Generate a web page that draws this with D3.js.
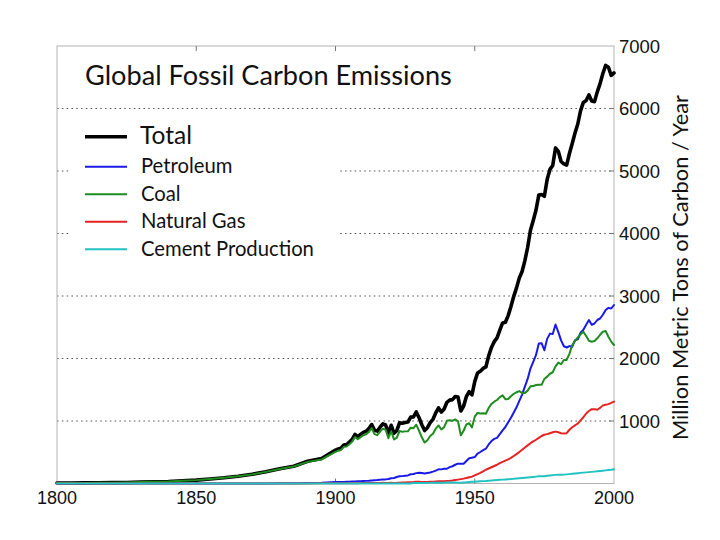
<!DOCTYPE html>
<html>
<head>
<meta charset="utf-8">
<script src="https://cdn.jsdelivr.net/npm/d3@7"></script>
<style>
  html, body { margin: 0; padding: 0; background: #fff; }
  svg { display: block; }
</style>
</head>
<body>
<svg id="chart" width="720" height="540"></svg>
<script>
// ---------------- DATA ----------------
// years: 1800-1895 every 5 years, then annual 1900-2000
const years = d3.range(1800, 1900, 5).concat(d3.range(1900, 2001));

const totalValues = [
  8,9,10,12,14,17,24,29,33,45,54,71,91,116,147,188,236,277,356,400,
  534,552,566,617,624,663,707,784,750,785,
  819,836,879,943,850,838,901,955,936,806,
  932,803,845,970,963,975,983,1062,1065,1145,
  1053,940,847,893,973,1027,1130,1209,1142,1192,
  1299,1334,1342,1391,1383,1160,1238,1392,1469,1419,
  1630,1767,1795,1841,1865,2042,2177,2270,2330,2454,
  2569,2580,2686,2833,2995,3130,3288,3393,3566,3780,
  4053,4208,4376,4614,4623,4596,4864,5026,5087,5369,
  5315,5152,5113,5094,5280,5439,5607,5752,5965,6097,
  6127,6217,6120,6110,6266,6398,6560,6690,6660,6530,
  6570
];

const petroleumValues = [
  0,0,0,0,0,0,0,0,0,0,0,0,0,0,1,2,3,5,8,12,
  23,23,24,26,28,30,32,34,36,37,
  40,42,45,49,52,55,60,66,66,71,
  85,88,104,116,118,124,129,148,153,166,
  171,168,159,167,176,190,207,227,226,237,
  236,262,276,300,317,317,317,360,403,413,
  423,479,504,533,557,625,679,714,731,789,
  849,904,980,1052,1137,1219,1323,1423,1551,1673,
  1839,1947,2057,2241,2245,2132,2314,2398,2392,2544,
  2422,2289,2196,2176,2199,2186,2293,2306,2412,2459,
  2540,2616,2540,2560,2616,2640,2700,2776,2810,2800,
  2856
];

const coalValues = [
  8,9,10,12,14,17,24,29,33,45,54,71,91,116,146,186,233,271,346,385,
  507,524,537,587,591,628,670,745,709,742,
  772,787,826,886,790,774,831,878,860,725,
  836,705,730,840,829,834,835,893,885,941,
  844,739,657,693,759,797,877,929,864,902,
  1003,1012,1004,1025,996,770,844,945,964,897,
  1070,1129,1119,1125,1116,1208,1273,1309,1336,1382,
  1410,1349,1351,1396,1435,1460,1478,1448,1448,1486,
  1556,1559,1576,1581,1579,1673,1710,1756,1780,1875,
  1935,1908,1976,1977,2074,2216,2277,2339,2387,2428,
  2359,2284,2269,2280,2323,2380,2429,2440,2349,2270,
  2216
];

const naturalGasValues = [
  0,0,0,0,0,0,0,0,0,0,0,0,0,0,0,0,0,1,2,3,
  3,4,4,4,5,5,5,5,5,6,
  7,7,8,8,8,9,10,11,10,10,
  11,10,11,14,16,17,19,21,23,28,
  28,25,24,25,28,30,34,38,37,38,
  42,44,48,55,62,70,78,88,100,110,
  130,150,170,195,220,240,260,280,300,325,
  345,365,385,410,440,470,505,540,575,610,
  645,675,700,730,760,780,790,805,820,830,
  820,805,800,805,860,900,930,960,1010,1060,
  1120,1160,1190,1190,1180,1210,1250,1260,1270,1290,
  1310
];

const cementValues = [
  0,0,0,0,0,0,0,0,0,0,0,0,0,0,0,0,0,0,0,0,
  0,0,0,0,0,0,0,0,0,0,
  0,0,0,0,0,0,0,0,0,0,
  0,0,0,0,0,0,0,0,10,10,
  10,9,8,9,10,11,12,13,14,14,
  15,16,16,15,14,14,17,20,24,27,
  29,32,35,38,41,45,48,51,55,59,
  62,65,68,71,75,80,84,88,92,96,
  100,105,110,116,117,116,124,129,134,138,
  140,140,142,146,150,155,160,165,170,174,
  178,182,186,190,195,200,205,210,215,220,
  227
];

const seriesNames = ["Total", "Petroleum", "Coal", "Natural Gas", "Cement Production"];
const xTicks = [1800, 1850, 1900, 1950, 2000];
const yTicks = [1000, 2000, 3000, 4000, 5000, 6000, 7000];
const gridTicks = [1000, 2000, 3000, 4000, 5000, 6000];
const titleText = "Global Fossil Carbon Emissions";
const yAxisTitle = "Million Metric Tons of Carbon / Year";

// ---------------- LAYOUT / STYLE ----------------
const seriesValues = [totalValues, petroleumValues, coalValues, naturalGasValues, cementValues];
const seriesColors = ["#000000", "#1a1ae6", "#1e8c1e", "#e62222", "#22c2c2"];
const seriesWidths = [3.6, 2, 2, 2, 2];

const L = 57, R = 614, T = 46, B = 483.5;
const svg = d3.select("#chart");

const x = d3.scaleLinear().domain([1800, 2000]).range([L, R]);
const y = d3.scaleLinear().domain([0, 7000]).range([B, T]);

function fit(sel, target) {
  const node = sel.node();
  const fs = parseFloat(sel.attr("font-size"));
  const w = node.getComputedTextLength();
  if (w > 0) sel.attr("font-size", (fs * target / w).toFixed(2));
  return sel;
}

// gridlines
svg.append("g")
  .selectAll("line")
  .data(gridTicks)
  .join("line")
  .attr("x1", L).attr("x2", R)
  .attr("y1", d => y(d)).attr("y2", d => y(d))
  .attr("stroke", "#5a5a5a")
  .attr("stroke-width", 1.2)
  .attr("stroke-dasharray", "1.6,3.2");

// frame
svg.append("rect")
  .attr("x", L).attr("y", T).attr("width", R - L).attr("height", B - T)
  .attr("fill", "none").attr("stroke", "#b4b4b4").attr("stroke-width", 1);

// inner ticks top & bottom
const tickG = svg.append("g").attr("stroke", "#777").attr("stroke-width", 1);
xTicks.slice(1, -1).forEach(t => {
  tickG.append("line").attr("x1", x(t)).attr("x2", x(t)).attr("y1", T).attr("y2", T + 5);
  tickG.append("line").attr("x1", x(t)).attr("x2", x(t)).attr("y1", B).attr("y2", B - 5);
});
gridTicks.forEach(t => {
  tickG.append("line").attr("x1", R).attr("x2", R - 5).attr("y1", y(t)).attr("y2", y(t));
});

// lines
const line = d3.line().x((d, i) => x(years[i])).y(d => y(d));
seriesValues.forEach((vals, k) => {
  svg.append("path")
    .datum(vals)
    .attr("d", line)
    .attr("fill", "none")
    .attr("stroke", seriesColors[k])
    .attr("stroke-width", seriesWidths[k])
    .attr("stroke-linejoin", "round")
    .attr("stroke-linecap", "round");
});

// x tick labels
svg.append("g")
  .selectAll("text")
  .data(xTicks)
  .join("text")
  .attr("x", d => x(d))
  .attr("y", 504)
  .attr("text-anchor", "middle")
  .attr("font-family", "'Liberation Sans', Arial, sans-serif")
  .attr("font-size", 18)
  .attr("fill", "#111")
  .text(d => d);

// y tick labels (right)
svg.append("g")
  .selectAll("text")
  .data(yTicks)
  .join("text")
  .attr("x", 619)
  .attr("y", d => y(d))
  .attr("dy", "0.36em")
  .attr("font-family", "'Liberation Sans', Arial, sans-serif")
  .attr("font-size", 18.5)
  .attr("fill", "#111")
  .text(d => d);

// y axis title
const yt = svg.append("text")
  .attr("transform", "translate(688,267.5) rotate(-90)")
  .attr("text-anchor", "middle")
  .attr("font-family", "Lato, 'Open Sans', sans-serif")
  .attr("font-size", 19)
  .attr("fill", "#111")
  .text(yAxisTitle);
fit(yt, 345);

// title
const tt = svg.append("text")
  .attr("x", 85).attr("y", 85)
  .attr("font-family", "Lato, 'Open Sans', sans-serif")
  .attr("font-size", 25)
  .attr("fill", "#111")
  .text(titleText);
fit(tt, 367);

// legend
svg.append("rect")
  .attr("x", 70).attr("y", 114).attr("width", 268).attr("height", 154)
  .attr("fill", "#fff");

const legendLineY = [136.7, 166.7, 194.2, 221.7, 249.3];
const legendTextY = [144, 173.3, 200.8, 228.3, 256];
const lg = svg.append("g");
seriesNames.forEach((name, k) => {
  lg.append("line")
    .attr("x1", 85).attr("x2", 127)
    .attr("y1", legendLineY[k]).attr("y2", legendLineY[k])
    .attr("stroke", seriesColors[k])
    .attr("stroke-width", seriesWidths[k]);
});
const totalTxt = lg.append("text")
  .attr("x", 140).attr("y", legendTextY[0])
  .attr("font-family", "Lato, 'Open Sans', sans-serif")
  .attr("font-size", 22).attr("fill", "#111")
  .text(seriesNames[0]);
fit(totalTxt, 52);

// size of the small legend entries fitted to "Cement Production"
const probe = lg.append("text")
  .attr("font-family", "Lato, 'Open Sans', sans-serif")
  .attr("font-size", 18).text(seriesNames[4]);
fit(probe, 173);
const smallFs = probe.attr("font-size");
probe.remove();
seriesNames.slice(1).forEach((name, i) => {
  lg.append("text")
    .attr("x", 141).attr("y", legendTextY[i + 1])
    .attr("font-family", "Lato, 'Open Sans', sans-serif")
    .attr("font-size", smallFs).attr("fill", "#111")
    .text(name);
});
</script>
</body>
</html>
